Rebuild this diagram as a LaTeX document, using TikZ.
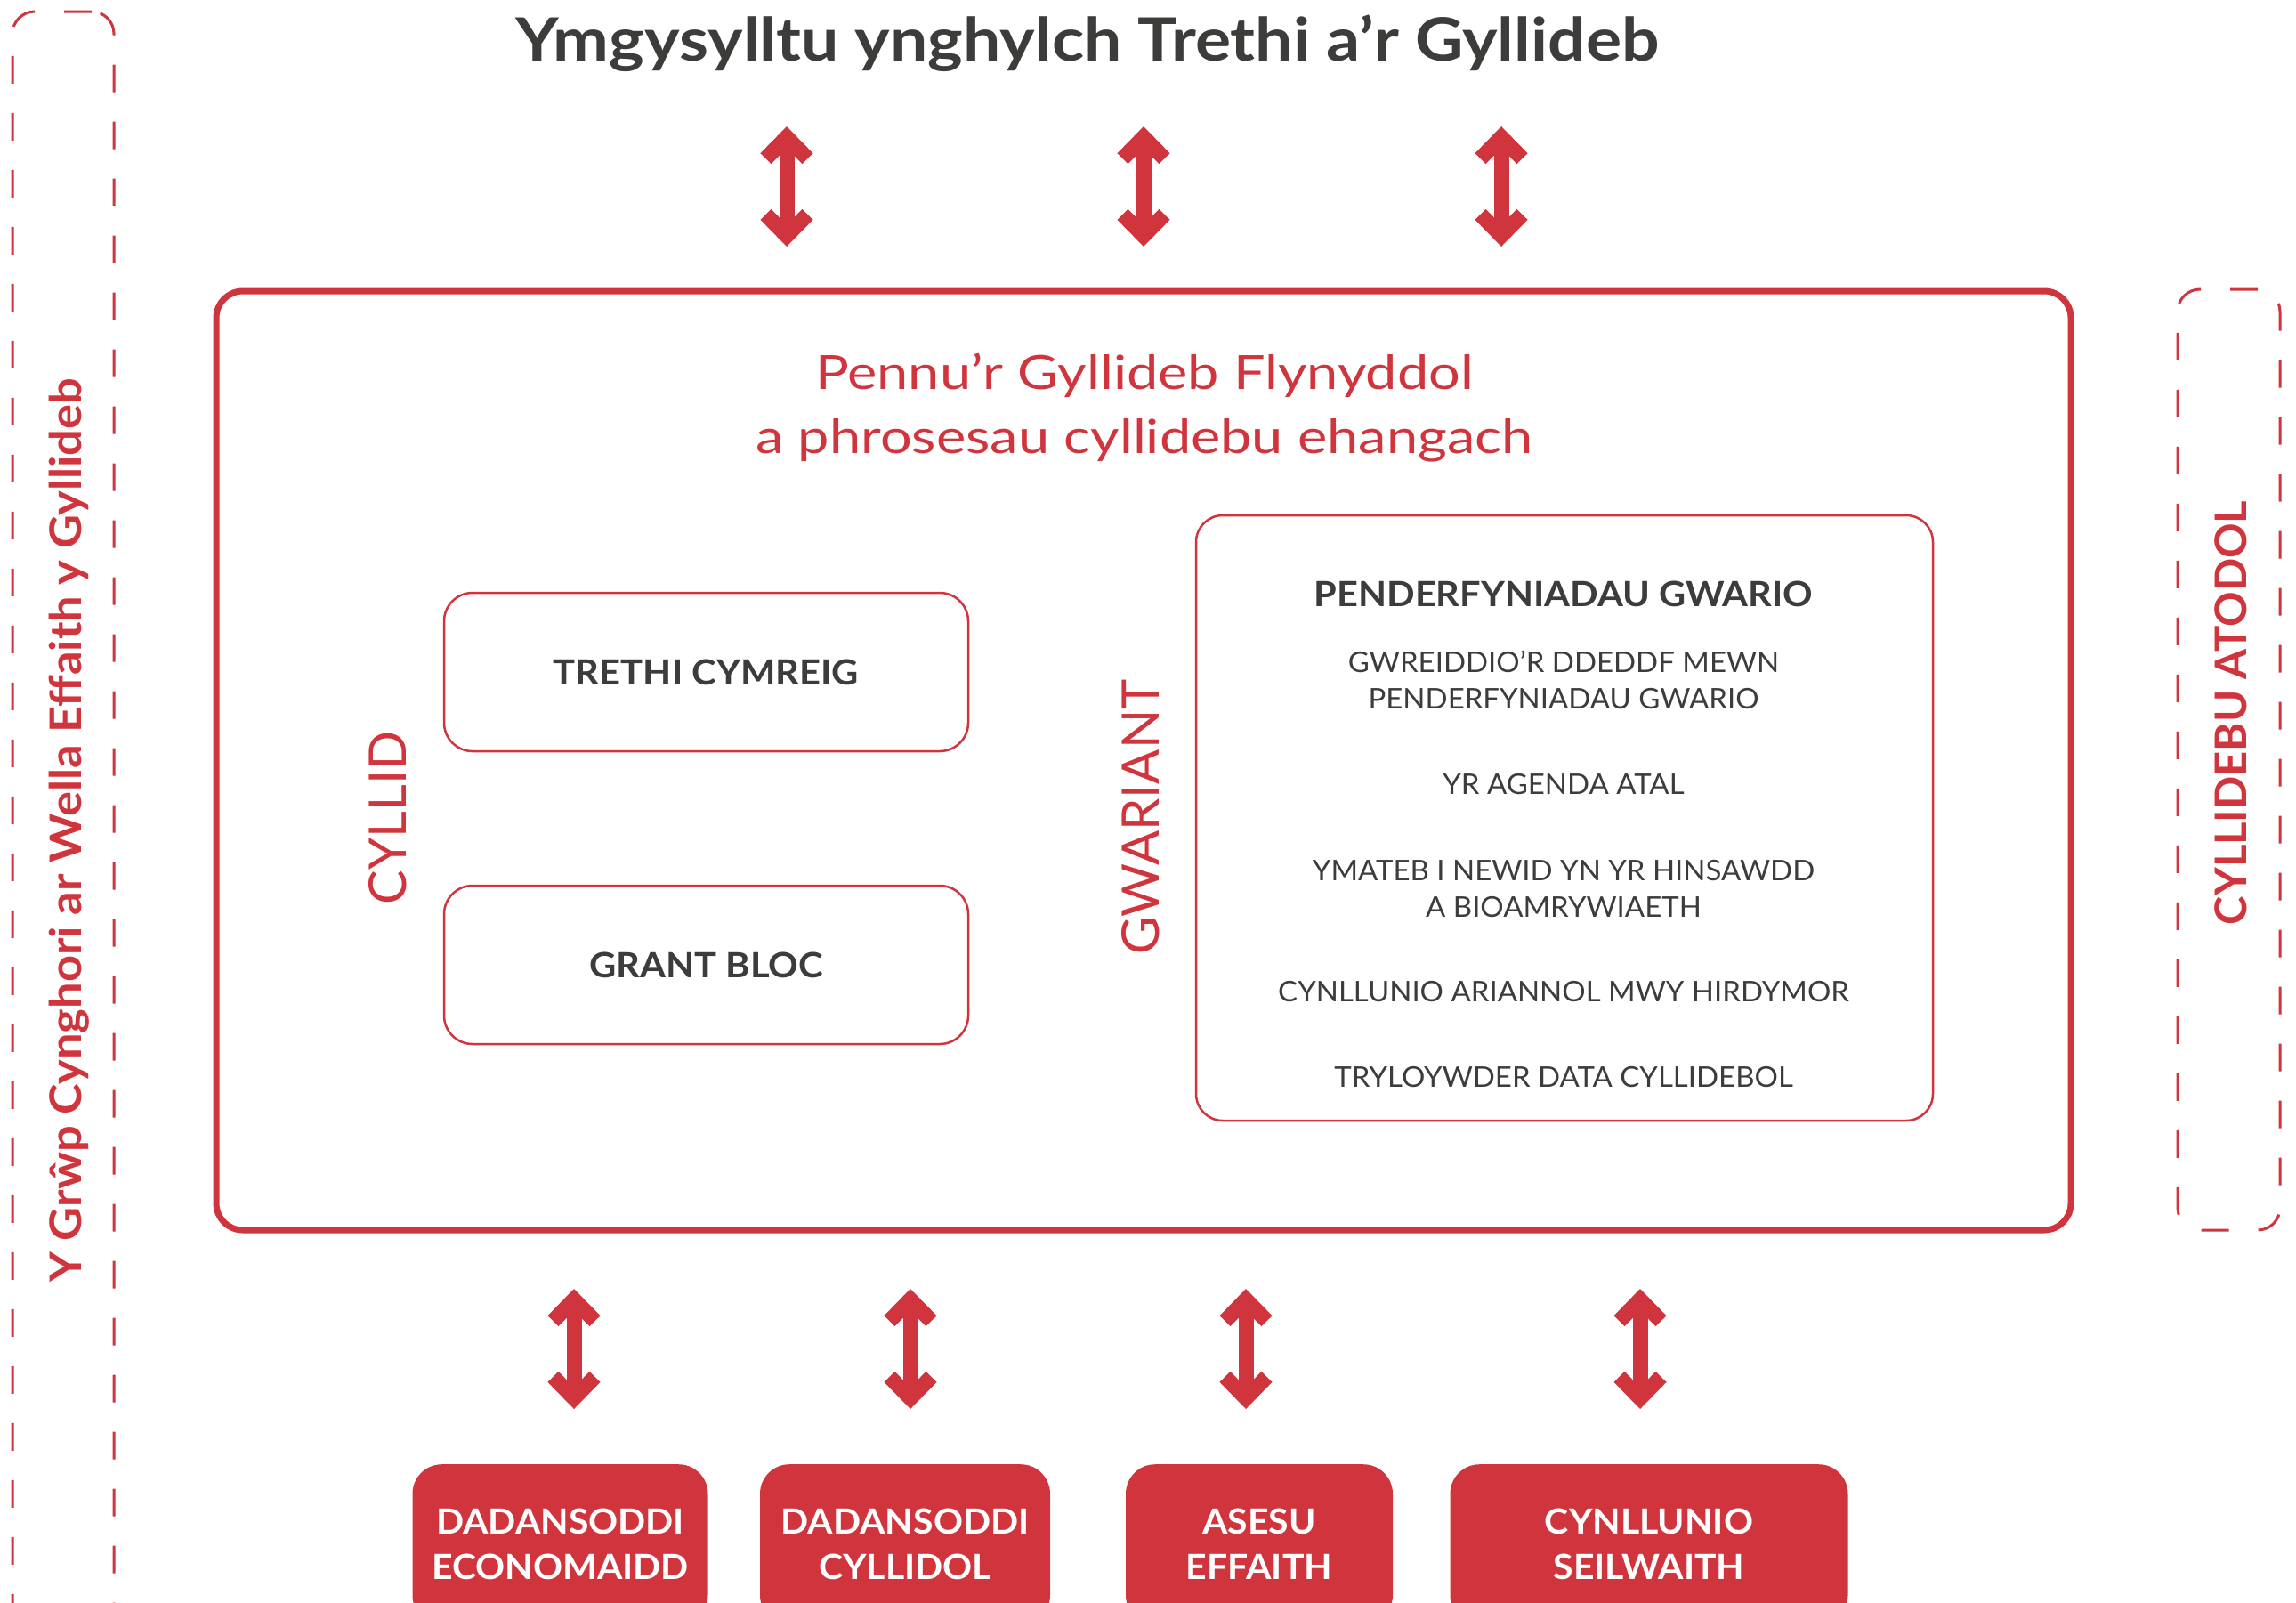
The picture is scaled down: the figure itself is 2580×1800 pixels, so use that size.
\documentclass[tikz,border=0pt]{standalone}
\usepackage{fontspec}
\setmainfont{Lato}
\usetikzlibrary{arrows.meta}
\definecolor{wred}{HTML}{D0343C}
\definecolor{wgrey}{HTML}{3C3C3B}
\newcommand{\widen}[1]{\addfontfeatures{FakeStretch=#1}}
\tikzstyle{heading}=[text=wgrey,font=\fontsize{67}{80}\selectfont\bfseries\widen{1.12},inner sep=0pt]
\tikzstyle{subhead}=[text=wred,font=\fontsize{53}{72}\selectfont\widen{1.19},align=center,inner sep=0pt]
\tikzstyle{mainbox}=[draw=wred,line width=7pt,rounded corners=30pt,minimum width=2084pt,minimum height=1055pt]
\tikzstyle{incbox}=[draw=wred,line width=2.5pt,rounded corners=32pt,minimum width=589pt,minimum height=178pt,text=wgrey,font=\fontsize{39}{50}\selectfont\bfseries\widen{1.07}]
\tikzstyle{spendbox}=[draw=wred,line width=2.5pt,rounded corners=30pt,minimum width=828pt,minimum height=680pt]
\tikzstyle{spendhead}=[text=wgrey,font=\fontsize{39}{50}\selectfont\bfseries\widen{1.066},inner sep=0pt]
\tikzstyle{spenditem}=[text=wgrey,font=\fontsize{32}{41}\selectfont\widen{1.03},align=center,inner sep=0pt]
\tikzstyle{sidelabel}=[text=wred,font=\fontsize{58}{70}\selectfont,inner sep=0pt]
\tikzstyle{sidebox}=[draw=wred,line width=3pt,dash pattern=on 31pt off 33pt,rounded corners=25pt]
\tikzstyle{sidetext}=[text=wred,font=\fontsize{49}{60}\selectfont\bfseries,inner sep=0pt]
\tikzstyle{toolbox}=[fill=wred,rounded corners=33pt,minimum height=180pt,anchor=north,text=white,align=center,font=\fontsize{39}{51}\selectfont\bfseries\widen{1.05}]
\tikzstyle{twoway}=[draw=wred,line width=17pt,{Straight Barb[length=24pt,width=47pt]}-{Straight Barb[length=24pt,width=47pt]}]

\begin{document}
\begin{tikzpicture}[x=1pt,y=-1pt]
    \useasboundingbox (0,0) rectangle (2580,1800);
    \clip (0,0) rectangle (2580,1800);

    % dashed side panels
    \node[sidebox,minimum width=114pt,minimum height=1880pt] (lpanel) at (71,953) {};
    \node[sidebox,minimum width=115pt,minimum height=1057pt] (rpanel) at (2504.5,853.5) {};
    \node[sidetext,rotate=90,anchor=base,font=\fontsize{49}{60}\selectfont\bfseries\widen{1.07}] (ltext) at (91.7,933) {Y Grŵp Cynghori ar Wella Effaith y Gyllideb};
    \node[sidetext,rotate=90,anchor=base] (rtext) at (2524,801) {CYLLIDEBU ATODOL};

    % heading
    \node[heading,anchor=base] (head) at (1222,68) {Ymgysylltu ynghylch Trethi a’r Gyllideb};

    % main box
    \node[mainbox] (budget) at (1285,854.5) {};
    \node[subhead,anchor=base] (sub) at (1286,509) {Pennu’r Gyllideb Flynyddol\\a phrosesau cyllidebu ehangach};

    % income side
    \node[sidelabel,rotate=90,anchor=base] (income) at (456,919) {CYLLID};
    \node[incbox] (tax) at (793.5,755) {TRETHI CYMREIG};
    \node[incbox] (grant) at (793.5,1084) {GRANT BLOC};

    % spending side
    \node[sidelabel,rotate=90,anchor=base] (spending) at (1302,918) {GWARIANT};
    \node[spendbox] (spend) at (1758,919) {};
    \node[spendhead,anchor=base] (sp0) at (1757,681) {PENDERFYNIADAU GWARIO};
    \node[spenditem,anchor=base] (sp1) at (1757,796) {GWREIDDIO’R DDEDDF MEWN\\PENDERFYNIADAU GWARIO};
    \node[spenditem,anchor=base] (sp2) at (1757,892) {YR AGENDA ATAL};
    \node[spenditem,anchor=base] (sp3) at (1757,1030) {YMATEB I NEWID YN YR HINSAWDD\\A BIOAMRYWIAETH};
    \node[spenditem,anchor=base] (sp4) at (1757,1125) {CYNLLUNIO ARIANNOL MWY HIRDYMOR};
    \node[spenditem,anchor=base] (sp5) at (1757,1221) {TRYLOYWDER DATA CYLLIDEBOL};

    % analysis boxes
    \node[toolbox,minimum width=332pt] (t1) at (629.5,1645) {DADANSODDI\\ECONOMAIDD};
    \node[toolbox,minimum width=326pt] (t2) at (1017,1645) {DADANSODDI\\CYLLIDOL};
    \node[toolbox,minimum width=300pt] (t3) at (1415,1645) {ASESU\\EFFAITH};
    \node[toolbox,minimum width=447pt] (t4) at (1853,1645) {CYNLLUNIO\\SEILWAITH};

    % two-way arrows
    \coordinate (u1) at (884,142);  \coordinate (v1) at (884,277);
    \coordinate (u2) at (1285,142); \coordinate (v2) at (1285,277);
    \coordinate (u3) at (1687,142); \coordinate (v3) at (1687,277);
    \coordinate (d1) at (645,1448);  \coordinate (e1) at (645,1583);
    \coordinate (d2) at (1023,1448); \coordinate (e2) at (1023,1583);
    \coordinate (d3) at (1400,1448); \coordinate (e3) at (1400,1583);
    \coordinate (d4) at (1843,1448); \coordinate (e4) at (1843,1583);
    \foreach \from/\to in {u1/v1,u2/v2,u3/v3,d1/e1,d2/e2,d3/e3,d4/e4}
    \draw[twoway] (\from) -- (\to);
\end{tikzpicture}
\end{document}
